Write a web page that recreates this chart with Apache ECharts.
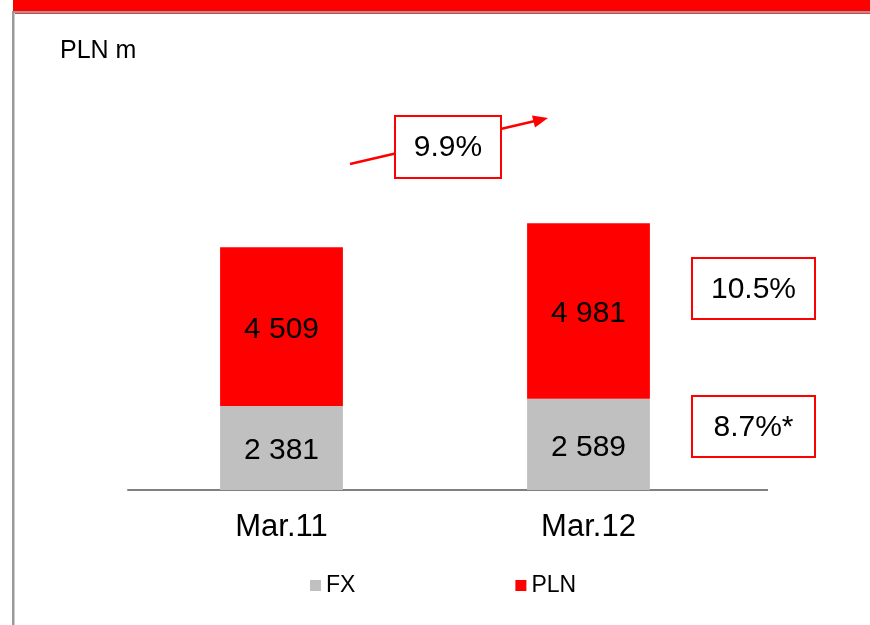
<!DOCTYPE html>
<html>
<head>
<meta charset="utf-8">
<script src="https://cdn.jsdelivr.net/npm/echarts@6/dist/echarts.min.js"></script>
<style>
html,body{margin:0;padding:0;background:#fff;}
#c{width:870px;height:625px;}
</style>
</head>
<body>
<div id="c"></div>
<script>
var categories = ['Mar.11', 'Mar.12'];
var fxValues = [2381, 2589];
var plnValues = [4509, 4981];
var seriesNames = ['FX', 'PLN'];
var unitLabel = 'PLN m';
var totalGrowth = '9.9%';
var plnGrowth = '10.5%';
var fxGrowth = '8.7%*';

var FONT = '"Liberation Sans", Arial, sans-serif';

function fmt(v) {
  return String(v).replace(/\B(?=(\d{3})+(?!\d))/g, ' ');
}

var chart = echarts.init(document.getElementById('c'), null, {renderer: 'canvas'});

function boxText(x, y, w, h, txt) {
  return [
    {type: 'rect', z: 20, shape: {x: x, y: y, width: w, height: h},
     style: {fill: '#fff', stroke: '#ff0000', lineWidth: 2}},
    {type: 'text', z: 21, x: x + w / 2, y: y + h / 2 + 1,
     style: {text: txt, fill: '#000', font: '30px ' + FONT, align: 'center', verticalAlign: 'middle'}}
  ];
}

var graphics = [
  {type: 'rect', shape: {x: 13, y: 0, width: 857, height: 11}, style: {fill: '#ff0000'}, z: 5},
  {type: 'rect', shape: {x: 12, y: 11, width: 858, height: 2}, style: {fill: '#999999'}, z: 5},
  {type: 'rect', shape: {x: 14, y: 13, width: 856, height: 1}, style: {fill: '#ff3030'}, z: 5},
  {type: 'rect', shape: {x: 12, y: 11, width: 2, height: 614}, style: {fill: '#999999'}, z: 5},
  {type: 'rect', shape: {x: 14, y: 13, width: 1, height: 612}, style: {fill: '#cccccc'}, z: 5},
  {type: 'text', left: 60, top: 39, style: {text: unitLabel, fill: '#000', font: '25px ' + FONT}, z: 5},
  {type: 'line', shape: {x1: 740, y1: 490, x2: 768, y2: 490}, style: {stroke: '#808080', lineWidth: 2}, z: 5},
  {type: 'line', shape: {x1: 350, y1: 164, x2: 535, y2: 121}, style: {stroke: '#ff0000', lineWidth: 2.5}, z: 10},
  {type: 'polygon', shape: {points: [[548, 118], [535, 127.5], [532, 115.5]]}, style: {fill: '#ff0000'}, z: 10}
].concat(boxText(395, 116, 106, 62, totalGrowth))
 .concat(boxText(692, 258, 123, 61, plnGrowth))
 .concat(boxText(692, 396, 123, 61, fxGrowth));

var option = {
  backgroundColor: '#fff',
  animation: false,
  textStyle: {fontFamily: FONT},
  grid: {left: 128, right: 128, top: 208, bottom: 135},
  legend: {
    data: seriesNames,
    left: 305, top: 569,
    itemWidth: 11, itemHeight: 11, itemGap: 160,
    icon: 'rect',
    textStyle: {fontSize: 23, color: '#000', fontFamily: FONT}
  },
  xAxis: {
    type: 'category',
    data: categories,
    axisTick: {show: false},
    axisLine: {lineStyle: {color: '#808080', width: 2}},
    axisLabel: {fontSize: 31, color: '#000', margin: 22, fontFamily: FONT}
  },
  yAxis: {
    type: 'value', min: 0, max: 8000, show: false,
    splitLine: {show: false}
  },
  series: [
    {
      name: 'FX', type: 'bar', stack: 'a', barWidth: '40%',
      data: fxValues,
      itemStyle: {color: '#c0c0c0'},
      label: {show: true, position: 'inside', offset: [0, 3], fontSize: 30,
        color: '#000', fontFamily: FONT, formatter: function (p) { return fmt(p.value); }}
    },
    {
      name: 'PLN', type: 'bar', stack: 'a', barWidth: '40%',
      data: plnValues,
      itemStyle: {color: '#ff0000'},
      label: {show: true, position: 'inside', offset: [0, 3], fontSize: 30,
        color: '#000', fontFamily: FONT, formatter: function (p) { return fmt(p.value); }}
    }
  ],
  graphic: graphics
};
chart.setOption(option);
</script>
</body>
</html>
